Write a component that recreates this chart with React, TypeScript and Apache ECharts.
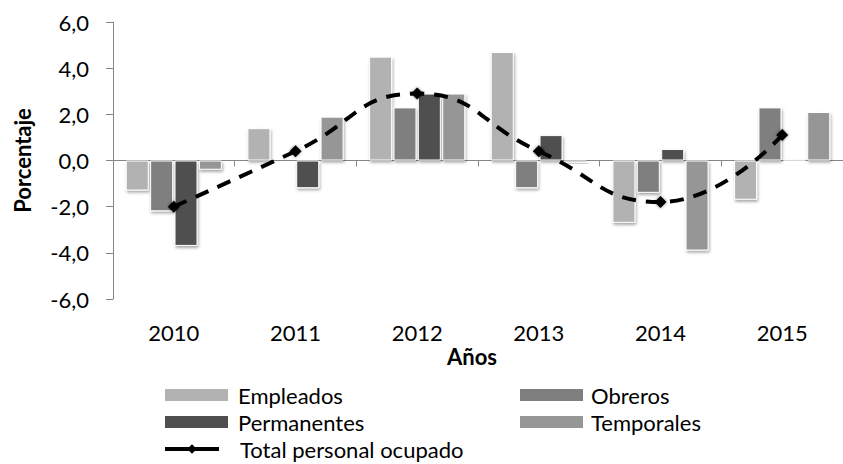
import React, { useEffect, useRef } from "react";
import * as echarts from "echarts";

const categories = ["2010", "2011", "2012", "2013", "2014", "2015"];
const empleados = [-1.3, 1.4, 4.5, 4.7, -2.7, -1.7];
const obreros = [-2.2, 0.0, 2.3, -1.2, -1.4, 2.3];
const permanentes = [-3.7, -1.2, 2.9, 1.1, 0.5, 0.05];
const temporales = [-0.4, 1.9, 2.9, -0.1, -3.9, 2.1];
const totalPersonal = [-2.0, 0.4, 2.9, 0.4, -1.8, 1.1];

const FONT = "Lato";
const AXIS_COLOR = "#868686";

const barStyle = (color: string) => ({
  color,
  borderColor: "#ffffff",
  borderWidth: 1,
  shadowBlur: 3,
  shadowOffsetX: 1,
  shadowOffsetY: 2,
  shadowColor: "rgba(0,0,0,0.35)",
});

const legendText = (pad: number) => ({
  fontSize: 22,
  lineHeight: 22,
  color: "#000",
  fontFamily: FONT,
  padding: [0, 0, 0, pad],
});

export default function App() {
  const ref = useRef<HTMLDivElement>(null);
  useEffect(() => {
    if (!ref.current) return;
    const chart = echarts.init(ref.current, undefined, { renderer: "svg" });
    const barCommon = {
      type: "bar" as const,
      barWidth: 23,
      barGap: "6%",
      xAxisIndex: 0,
      yAxisIndex: 0,
    };
    chart.setOption({
      animation: false,
      backgroundColor: "#ffffff",
      textStyle: { fontFamily: FONT },
      grid: { left: 113, top: 22, width: 735, height: 277, containLabel: false },
      xAxis: [
        {
          type: "category",
          data: categories,
          position: "bottom",
          axisLine: { show: true, onZero: true, lineStyle: { color: AXIS_COLOR, width: 1 } },
          axisTick: { show: true, length: 6, lineStyle: { color: AXIS_COLOR } },
          axisLabel: { show: false },
          splitLine: { show: false },
        },
        {
          type: "category",
          data: categories,
          position: "bottom",
          axisLine: { show: false, onZero: false },
          axisTick: { show: false },
          axisLabel: { show: true, margin: 22, fontSize: 22, color: "#000", fontFamily: FONT },
          splitLine: { show: false },
        },
      ],
      yAxis: {
        type: "value",
        min: -6,
        max: 6,
        interval: 2,
        name: "Porcentaje",
        nameLocation: "middle",
        nameRotate: 90,
        nameGap: 80,
        nameTextStyle: { fontSize: 22, fontWeight: "bold", color: "#000", fontFamily: FONT },
        axisLine: { show: true, lineStyle: { color: AXIS_COLOR, width: 1 } },
        axisTick: { show: true, length: 7, lineStyle: { color: AXIS_COLOR } },
        axisLabel: {
          fontSize: 22,
          color: "#000",
          margin: 24,
          fontFamily: FONT,
          formatter: (v: number) => v.toFixed(1).replace(".", ","),
        },
        splitLine: { show: false },
      },
      legend: [
        {
          orient: "vertical",
          left: 165,
          top: 384,
          padding: 0,
          itemWidth: 63,
          itemHeight: 12,
          itemGap: 5,
          icon: "rect",
          data: ["Empleados", "Permanentes"],
          textStyle: legendText(5),
          itemStyle: { borderWidth: 0, shadowBlur: 0, shadowOffsetX: 0, shadowOffsetY: 0 },
        },
        {
          orient: "vertical",
          left: 520,
          top: 384,
          padding: 0,
          itemWidth: 63,
          itemHeight: 12,
          itemGap: 5,
          icon: "rect",
          data: ["Obreros", "Temporales"],
          textStyle: legendText(3),
          itemStyle: { borderWidth: 0, shadowBlur: 0, shadowOffsetX: 0, shadowOffsetY: 0 },
        },
        {
          orient: "vertical",
          left: 163,
          top: 438,
          padding: 0,
          itemWidth: 54,
          itemHeight: 12,
          data: ["Total personal ocupado"],
          textStyle: legendText(16),
          itemStyle: { shadowBlur: 0 },
          lineStyle: { width: 4, type: "solid" },
        },
      ],
      graphic: [
        {
          type: "text",
          x: 472,
          y: 356,
          style: {
            text: "Años",
            fontSize: 22,
            fontWeight: "bold",
            fontFamily: FONT,
            fill: "#000",
            align: "center",
            verticalAlign: "middle",
          },
        },
      ],
      series: [
        { ...barCommon, name: "Empleados", data: empleados, itemStyle: barStyle("#b2b2b2") },
        { ...barCommon, name: "Obreros", data: obreros, itemStyle: barStyle("#7f7f7f") },
        { ...barCommon, name: "Permanentes", data: permanentes, itemStyle: barStyle("#4f4f4f") },
        { ...barCommon, name: "Temporales", data: temporales, itemStyle: barStyle("#969696") },
        {
          type: "line",
          name: "Total personal ocupado",
          data: totalPersonal,
          xAxisIndex: 0,
          yAxisIndex: 0,
          smooth: 0.5,
          z: 5,
          symbol: "diamond",
          symbolSize: 12,
          lineStyle: { color: "#000", width: 4, type: [14, 10] },
          itemStyle: {
            color: "#000",
            shadowBlur: 3,
            shadowColor: "rgba(0,0,0,0.5)",
          },
        },
      ],
    });
    return () => chart.dispose();
  }, []);
  return (
    <div
      ref={ref}
      style={{ position: "absolute", left: 0, top: 0, width: 843, height: 464 }}
    />
  );
}
